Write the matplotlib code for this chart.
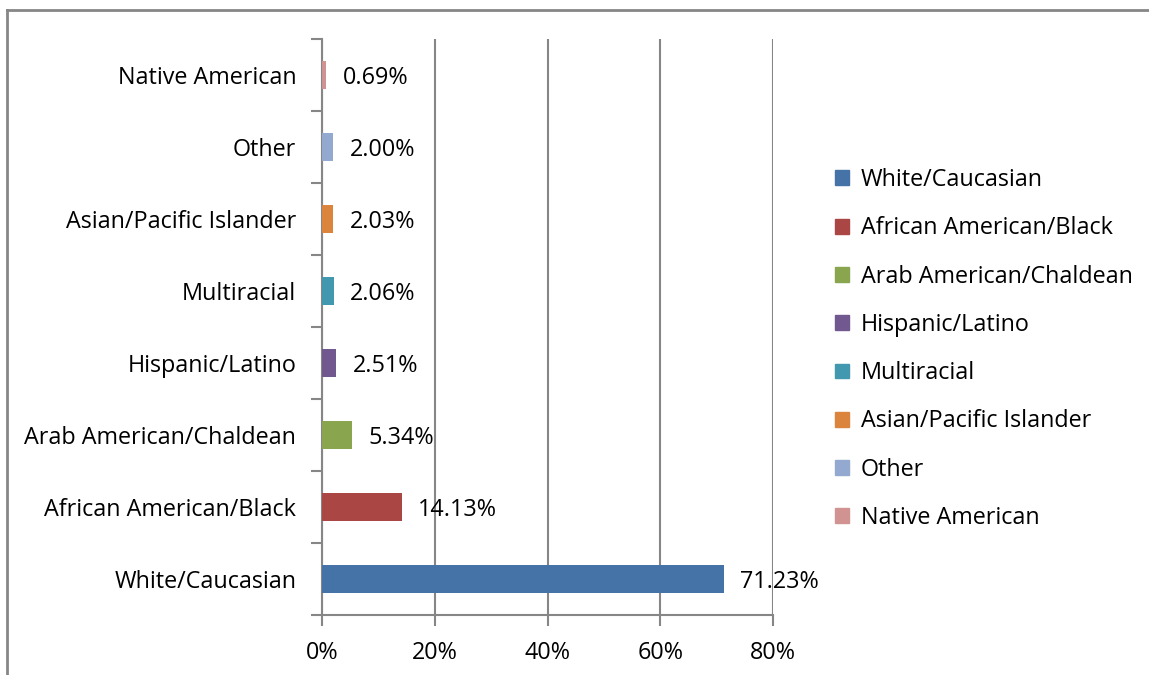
import matplotlib
matplotlib.use("Agg")
import matplotlib.pyplot as plt
from matplotlib.lines import Line2D
from matplotlib.ticker import FuncFormatter, FixedLocator

plt.rcParams['font.family'] = ['Open Sans', 'DejaVu Sans']

# data
groups = ["White/Caucasian", "African American/Black", "Arab American/Chaldean",
          "Hispanic/Latino", "Multiracial", "Asian/Pacific Islander", "Other",
          "Native American"]
shares = [71.23, 14.13, 5.34, 2.51, 2.06, 2.03, 2.00, 0.69]
colors = ["#4572A7", "#AA4643", "#89A54E", "#71588F", "#4198AF", "#DB843D",
          "#93A9CF", "#D19392"]
xticks = [0, 20, 40, 60, 80]

grey = "#868686"
fs = 16.8

fig = plt.figure(figsize=(11.49, 6.75), dpi=100)
ax = fig.add_axes([322 / 1149, 1 - 615 / 675, (773 - 322) / 1149, (615 - 39) / 675])

# chart frame (only the left and top edges show in the crop)
fig.add_artist(Line2D([7 / 1149, 7 / 1149], [0, 1 - 10 / 675], transform=fig.transFigure,
                      color=grey, lw=2))
fig.add_artist(Line2D([7 / 1149, 1], [1 - 10 / 675, 1 - 10 / 675], transform=fig.transFigure,
                      color=grey, lw=2))

ypos = list(range(len(groups)))
bars = ax.barh(ypos, shares, height=0.4, color=colors, zorder=3)

for y, v in zip(ypos, shares):
    ax.annotate(f"{v:.2f}%", (v, y), xytext=(12, 0), textcoords="offset points",
                va="center_baseline", ha="left", fontsize=fs, color="black")

ax.set_xlim(0, 80)
ax.set_ylim(-0.5, len(groups) - 0.5)
ax.set_xticks(xticks)
ax.xaxis.set_major_formatter(FuncFormatter(lambda v, p: f"{v:.0f}%"))
ax.set_yticks(ypos)
ax.set_yticklabels(groups)
ax.yaxis.set_minor_locator(FixedLocator([i - 0.5 for i in range(len(groups) + 1)]))
ax.tick_params(axis="y", which="major", length=0, pad=18.5, labelsize=fs)
ax.tick_params(axis="y", which="minor", length=8, width=1.5, color=grey)
ax.tick_params(axis="x", length=8, width=1.5, color=grey, labelsize=fs, pad=11)

ax.grid(axis="x", color=grey, lw=1.5, zorder=0)
for s in ["top", "right"]:
    ax.spines[s].set_visible(False)
for s in ["left", "bottom"]:
    ax.spines[s].set_color(grey)
    ax.spines[s].set_linewidth(1.5)
ax.set_axisbelow(True)

handles = [plt.Rectangle((0, 0), 1, 1, color=c) for c in colors]
fig.legend(handles, groups, loc="center left", bbox_to_anchor=(814 / 1149, 1 - 349 / 675),
           frameon=False, fontsize=fs, handlelength=0.6, handleheight=0.6,
           handletextpad=0.5, labelspacing=1.04)

fig.savefig("out.png", dpi=100)
